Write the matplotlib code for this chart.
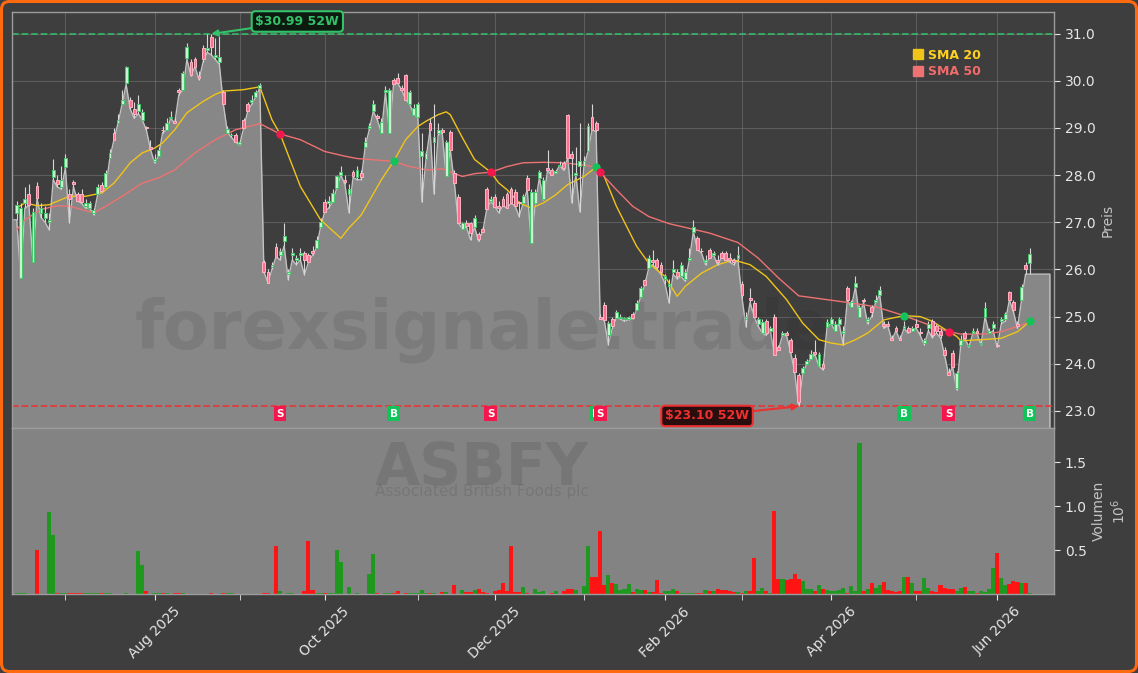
import numpy as np
import pandas as pd
import matplotlib
matplotlib.use("Agg")
import matplotlib.pyplot as plt
import matplotlib.transforms as mtransforms
from matplotlib.lines import Line2D
from matplotlib.patches import FancyBboxPatch

# ---- data ----
ticker = "ASBFY"
company = "Associated British Foods plc"
watermark = "forexsignale.trade"

first_day = "2025-06-12"
last_day = "2026-06-11"
holidays = ["2025-06-19", "2025-07-04", "2025-09-01", "2025-11-27", "2025-12-25",
            "2026-01-01", "2026-01-19", "2026-02-16", "2026-04-03", "2026-05-25"]

opens = [
    27.20, 25.82, 27.40, 27.60, 26.16, 27.77, 27.20, 27.10, 27.00, 27.95,
    27.90, 27.75, 28.16, 27.60, 27.85, 27.60, 27.60, 27.35, 27.30, 27.20,
    27.60, 27.78, 27.75, 28.37, 28.90, 29.10, 29.50, 29.96, 29.60, 29.40,
    29.35, 29.17, 29.02, 28.60, 28.30, 28.40, 28.96, 28.95, 29.20, 29.15,
    29.80, 29.81, 30.49, 30.40, 30.45, 30.10, 30.70, 30.65, 30.93, 30.50,
    30.40, 29.75, 28.90, 28.85, 28.85, 28.65, 29.17, 29.50, 29.55, 29.66,
    29.85, 26.16, 25.95, 26.05, 26.48, 26.30, 26.60, 25.90, 26.30, 26.20,
    26.30, 26.35, 26.30, 26.40, 26.46, 26.90, 27.43, 27.40, 27.43, 27.73,
    28.00, 27.90, 27.60, 28.07, 27.95, 28.05, 28.60, 29.00, 29.35, 29.25,
    28.90, 29.77, 28.90, 30.02, 30.05, 29.85, 30.11, 29.50, 29.28, 29.22,
    28.40, 28.33, 29.10, 28.70, 28.90, 28.95, 27.97, 28.92, 28.05, 27.54,
    26.85, 26.99, 26.99, 26.90, 26.75, 26.85, 27.70, 27.45, 27.54, 27.35,
    27.50, 27.60, 27.70, 27.65, 27.42, 27.40, 27.94, 26.56, 27.40, 27.94,
    27.50, 28.15, 28.10, 28.05, 28.20, 28.26, 29.28, 28.45, 28.00, 28.20,
    28.20, 28.50, 29.24, 29.10, 25.00, 25.25, 24.61, 24.95, 24.97, 24.98,
    24.95, 24.95, 25.05, 25.14, 25.42, 25.78, 26.03, 26.20, 26.20, 26.10,
    25.80, 25.65, 25.95, 25.95, 25.85, 25.80, 26.20, 26.80, 26.67, 26.40,
    26.15, 26.42, 26.30, 26.20, 26.35, 26.35, 26.25, 26.20, 26.25, 25.70,
    24.95, 25.40, 25.29, 24.85, 24.65, 24.90, 24.70, 25.00, 24.35, 24.60,
    24.65, 24.50, 24.12, 23.76, 23.80, 24.00, 24.10, 24.25, 23.95, 24.00,
    24.78, 24.85, 24.70, 24.85, 24.65, 25.61, 25.20, 25.63, 25.00, 25.35,
    24.90, 25.20, 25.30, 25.46, 24.85, 24.85, 24.55, 24.75, 24.55, 24.75,
    24.75, 24.70, 24.85, 24.68, 24.45, 24.75, 24.90, 24.80, 24.70, 24.30,
    23.83, 24.23, 23.49, 24.40, 24.65, 24.38, 24.65, 24.70, 24.42, 25.00,
    24.65, 24.75, 24.40, 24.90, 24.95, 25.52, 25.30, 24.85, 25.35, 26.10,
    26.14,
]

closes = [
    27.37, 27.30, 27.50, 27.37, 27.22, 27.52, 27.30, 27.20, 27.05, 28.10,
    27.80, 27.90, 28.37, 27.50, 27.80, 27.45, 27.43, 27.40, 27.40, 27.25,
    27.75, 27.66, 28.05, 28.47, 28.75, 29.17, 29.60, 30.28, 29.45, 29.30,
    29.50, 29.34, 29.00, 28.55, 28.35, 28.54, 28.95, 29.10, 29.24, 29.10,
    29.75, 30.17, 30.72, 30.13, 30.30, 30.05, 30.45, 30.70, 30.72, 30.55,
    30.50, 29.50, 28.98, 28.85, 28.70, 28.69, 29.00, 29.35, 29.60, 29.75,
    29.90, 25.95, 25.72, 26.10, 26.27, 26.40, 26.70, 25.95, 26.35, 26.25,
    26.35, 26.20, 26.15, 26.35, 26.63, 27.00, 27.22, 27.45, 27.63, 27.97,
    28.07, 27.85, 27.70, 27.97, 28.10, 27.95, 28.70, 29.05, 29.50, 29.20,
    29.13, 29.80, 29.81, 29.92, 29.96, 29.81, 29.60, 29.75, 29.43, 29.50,
    28.50, 28.47, 28.96, 28.80, 28.95, 28.92, 28.70, 28.54, 27.84, 26.99,
    26.99, 26.92, 26.78, 27.10, 26.65, 26.80, 27.27, 27.50, 27.33, 27.30,
    27.35, 27.30, 27.40, 27.35, 27.40, 27.55, 27.69, 27.65, 27.65, 28.07,
    27.90, 28.10, 28.00, 28.08, 28.22, 28.15, 28.37, 28.37, 28.05, 28.30,
    28.30, 29.03, 28.96, 28.95, 24.95, 24.93, 24.87, 24.80, 25.10, 25.00,
    24.97, 25.00, 24.98, 25.29, 25.60, 25.67, 26.25, 26.15, 26.05, 25.95,
    25.85, 25.70, 26.00, 25.85, 26.10, 25.95, 26.25, 26.90, 26.42, 26.38,
    26.20, 26.25, 26.35, 26.15, 26.25, 26.20, 26.20, 26.15, 26.30, 25.45,
    25.00, 25.35, 25.00, 24.95, 24.89, 24.65, 24.75, 24.19, 24.30, 24.65,
    24.62, 24.25, 23.83, 23.19, 23.91, 24.05, 24.20, 24.20, 24.20, 23.90,
    24.89, 24.95, 24.85, 24.95, 24.70, 25.35, 25.30, 25.72, 25.20, 25.32,
    24.95, 25.10, 25.35, 25.57, 24.80, 24.80, 24.50, 24.70, 24.50, 24.80,
    24.68, 24.75, 24.78, 24.65, 24.50, 24.85, 24.60, 24.70, 24.60, 24.19,
    23.76, 23.93, 23.80, 24.50, 24.55, 24.40, 24.70, 24.65, 24.45, 25.18,
    24.70, 24.85, 24.38, 24.95, 25.05, 25.35, 25.15, 24.80, 25.63, 26.00,
    26.33,
]

highs = [
    27.45, 27.40, 27.75, 27.80, 27.30, 27.85, 27.40, 27.35, 27.20, 28.33,
    28.00, 28.20, 28.45, 27.70, 27.90, 27.65, 27.70, 27.50, 27.45, 27.30,
    27.80, 27.85, 28.10, 28.55, 29.00, 29.30, 29.80, 30.32, 29.65, 29.55,
    29.70, 29.40, 29.05, 28.75, 28.45, 28.60, 29.05, 29.20, 29.35, 29.20,
    29.85, 30.20, 30.80, 30.45, 30.50, 30.20, 30.75, 30.98, 30.99, 30.90,
    30.95, 29.80, 29.05, 28.90, 28.90, 28.75, 29.20, 29.55, 29.70, 29.80,
    29.95, 26.20, 26.00, 26.15, 26.55, 26.45, 26.99, 26.00, 26.45, 26.30,
    26.45, 26.40, 26.35, 26.50, 26.70, 27.10, 27.50, 27.55, 27.70, 28.00,
    28.20, 28.00, 27.80, 28.10, 28.20, 28.10, 28.80, 29.10, 29.60, 29.30,
    29.20, 29.88, 29.85, 30.05, 30.17, 29.90, 30.15, 29.80, 29.50, 29.55,
    28.90, 28.50, 29.20, 29.50, 29.10, 29.00, 28.75, 28.95, 28.10, 27.60,
    27.00, 27.05, 27.00, 27.15, 26.80, 26.90, 27.75, 27.55, 27.60, 27.45,
    27.55, 27.65, 27.75, 27.70, 27.45, 27.60, 28.00, 27.70, 27.70, 28.10,
    27.95, 28.54, 28.15, 28.10, 28.30, 28.30, 29.30, 28.50, 28.60, 29.10,
    28.40, 29.10, 29.50, 29.15, 25.05, 25.30, 24.90, 25.00, 25.15, 25.05,
    25.00, 25.02, 25.10, 25.35, 25.65, 25.80, 26.30, 26.42, 26.25, 26.15,
    25.90, 25.80, 26.20, 26.00, 26.15, 26.00, 26.46, 27.05, 26.70, 26.45,
    26.30, 26.45, 26.40, 26.30, 26.40, 26.40, 26.35, 26.25, 26.50, 25.75,
    25.10, 25.60, 25.35, 25.00, 24.95, 24.95, 24.80, 25.05, 24.40, 24.70,
    24.70, 24.55, 24.20, 23.80, 23.95, 24.10, 24.30, 24.50, 24.25, 24.05,
    24.95, 25.00, 24.90, 25.00, 24.80, 25.65, 25.35, 25.85, 25.25, 25.40,
    25.00, 25.25, 25.45, 25.65, 24.90, 24.90, 24.60, 24.80, 24.60, 24.90,
    24.80, 24.80, 24.95, 24.75, 24.55, 24.90, 24.95, 24.85, 24.75, 24.35,
    23.90, 24.30, 23.85, 24.60, 24.70, 24.45, 24.75, 24.75, 24.50, 25.30,
    24.75, 24.90, 24.45, 25.00, 25.10, 25.55, 25.35, 24.90, 25.70, 26.15,
    26.45,
]

lows = [
    27.05, 25.82, 27.30, 27.35, 26.16, 27.50, 27.10, 27.00, 26.84, 27.90,
    27.75, 27.70, 28.15, 26.99, 27.75, 27.45, 27.40, 27.30, 27.30, 27.16,
    27.60, 27.65, 27.75, 28.37, 28.75, 29.10, 29.50, 29.92, 29.40, 29.20,
    29.30, 29.17, 28.95, 28.55, 28.26, 28.40, 28.90, 28.95, 29.20, 29.10,
    29.70, 29.80, 30.45, 30.10, 30.30, 30.02, 30.40, 30.60, 30.55, 30.45,
    30.35, 29.50, 28.90, 28.80, 28.70, 28.64, 29.00, 29.35, 29.50, 29.65,
    29.85, 25.95, 25.72, 26.00, 26.27, 26.20, 26.50, 25.78, 26.20, 26.10,
    26.20, 25.89, 26.15, 26.30, 26.46, 26.90, 27.22, 27.30, 27.43, 27.73,
    28.00, 27.80, 27.20, 27.95, 27.90, 27.90, 28.60, 28.96, 29.35, 29.17,
    28.90, 29.75, 28.90, 29.92, 29.95, 29.81, 29.60, 29.50, 29.28, 29.22,
    27.43, 28.33, 28.96, 27.60, 28.85, 28.90, 27.97, 28.54, 27.84, 26.99,
    26.85, 26.90, 26.63, 26.90, 26.60, 26.80, 27.27, 27.45, 27.33, 27.20,
    27.35, 27.30, 27.40, 27.35, 27.12, 27.40, 27.69, 26.56, 27.40, 27.94,
    27.48, 28.10, 28.00, 28.05, 28.20, 28.10, 28.37, 27.41, 28.00, 27.22,
    28.20, 28.50, 28.96, 28.92, 24.95, 24.93, 24.40, 24.75, 24.97, 24.95,
    24.90, 24.93, 24.95, 25.14, 25.42, 25.67, 26.03, 26.10, 26.00, 25.90,
    25.70, 25.29, 25.90, 25.80, 25.85, 25.75, 26.20, 26.80, 26.42, 26.35,
    26.10, 26.25, 26.30, 26.10, 26.25, 26.20, 26.15, 26.10, 26.20, 25.40,
    24.78, 25.30, 25.00, 24.80, 24.65, 24.60, 24.70, 24.19, 24.30, 24.60,
    24.60, 24.25, 23.83, 23.10, 23.80, 24.00, 24.10, 24.20, 23.95, 23.87,
    24.78, 24.85, 24.70, 24.85, 24.40, 25.35, 25.20, 25.63, 25.00, 25.30,
    24.85, 25.00, 25.30, 25.46, 24.75, 24.80, 24.50, 24.70, 24.50, 24.75,
    24.65, 24.70, 24.75, 24.60, 24.40, 24.70, 24.55, 24.65, 24.55, 24.19,
    23.76, 23.93, 23.45, 24.40, 24.55, 24.35, 24.65, 24.65, 24.40, 25.00,
    24.65, 24.70, 24.35, 24.85, 24.90, 25.35, 25.10, 24.75, 25.35, 25.90,
    25.90,
]

# volume in millions of shares
volumes = [
    0.01, 0.01, 0.01, 0.00, 0.00, 0.50, 0.00, 0.00, 0.93, 0.67,
    0.01, 0.01, 0.01, 0.01, 0.01, 0.01, 0.01, 0.01, 0.01, 0.01,
    0.01, 0.01, 0.01, 0.01, 0.00, 0.00, 0.00, 0.01, 0.00, 0.00,
    0.49, 0.33, 0.03, 0.00, 0.01, 0.01, 0.01, 0.01, 0.00, 0.01,
    0.01, 0.01, 0.00, 0.00, 0.00, 0.00, 0.00, 0.00, 0.01, 0.00,
    0.00, 0.01, 0.01, 0.01, 0.00, 0.00, 0.00, 0.00, 0.00, 0.00,
    0.00, 0.01, 0.01, 0.00, 0.55, 0.03, 0.00, 0.01, 0.01, 0.00,
    0.00, 0.03, 0.60, 0.05, 0.01, 0.01, 0.01, 0.01, 0.01, 0.50,
    0.36, 0.00, 0.08, 0.00, 0.01, 0.00, 0.00, 0.23, 0.46, 0.01,
    0.00, 0.01, 0.01, 0.01, 0.03, 0.00, 0.01, 0.01, 0.01, 0.01,
    0.05, 0.01, 0.01, 0.01, 0.00, 0.02, 0.02, 0.00, 0.10, 0.00,
    0.04, 0.02, 0.02, 0.04, 0.06, 0.02, 0.01, 0.00, 0.03, 0.05,
    0.12, 0.03, 0.55, 0.02, 0.02, 0.08, 0.01, 0.00, 0.06, 0.02,
    0.03, 0.00, 0.01, 0.03, 0.00, 0.03, 0.06, 0.06, 0.05, 0.00,
    0.09, 0.55, 0.19, 0.19, 0.72, 0.10, 0.22, 0.12, 0.11, 0.05,
    0.06, 0.11, 0.02, 0.06, 0.04, 0.05, 0.02, 0.02, 0.16, 0.01,
    0.03, 0.03, 0.06, 0.03, 0.01, 0.01, 0.01, 0.01, 0.01, 0.01,
    0.05, 0.03, 0.03, 0.06, 0.05, 0.05, 0.03, 0.02, 0.02, 0.01,
    0.03, 0.03, 0.41, 0.03, 0.07, 0.03, 0.01, 0.95, 0.17, 0.17,
    0.16, 0.17, 0.23, 0.17, 0.15, 0.06, 0.06, 0.03, 0.10, 0.06,
    0.05, 0.03, 0.03, 0.04, 0.07, 0.01, 0.09, 0.03, 1.72, 0.03,
    0.06, 0.12, 0.07, 0.10, 0.14, 0.05, 0.03, 0.02, 0.03, 0.19,
    0.19, 0.13, 0.03, 0.03, 0.18, 0.07, 0.03, 0.02, 0.10, 0.07,
    0.06, 0.06, 0.03, 0.07, 0.08, 0.03, 0.03, 0.01, 0.03, 0.02,
    0.06, 0.30, 0.47, 0.18, 0.10, 0.11, 0.15, 0.14, 0.13, 0.13,
    0.01,
]

# moving averages as read at their turning points (trading-day index, price)
sma20_idx = [0, 2, 5, 8, 11, 13, 17, 21, 24, 26, 28, 31, 34, 36, 39, 42, 46, 49, 51, 56,
             60, 63, 65, 70, 75, 80, 82, 85, 90, 93, 96, 99, 101, 104, 106, 107, 110, 113,
             117, 119, 121, 124, 127, 130, 133, 136, 140, 143, 145, 148, 153, 156, 160,
             163, 165, 169, 173, 177, 181, 185, 190, 194, 198, 201, 204, 207, 210, 214,
             219, 223, 226, 230, 232, 233, 238, 243, 247, 248, 250]
sma20_val = [27.30, 27.41, 27.35, 27.37, 27.48, 27.55, 27.55, 27.62, 27.83, 28.04, 28.26,
             28.47, 28.57, 28.68, 28.96, 29.32, 29.56, 29.71, 29.78, 29.81, 29.87, 29.17,
             28.87, 27.76, 27.05, 26.66, 26.88, 27.15, 27.90, 28.29, 28.75, 29.03, 29.14,
             29.28, 29.34, 29.28, 28.79, 28.33, 28.06, 27.83, 27.69, 27.41, 27.30, 27.41,
             27.58, 27.80, 27.97, 28.17, 27.97, 27.34, 26.49, 26.13, 25.85, 25.43, 25.64,
             25.92, 26.10, 26.20, 26.10, 25.85, 25.36, 24.86, 24.51, 24.44, 24.40, 24.51,
             24.65, 24.93, 25.02, 25.00, 24.90, 24.68, 24.58, 24.49, 24.51, 24.54, 24.68,
             24.75, 24.90]
sma50_idx = [0, 2, 6, 10, 13, 16, 19, 22, 26, 31, 35, 39, 44, 49, 54, 60, 65, 70, 76, 81,
             84, 87, 93, 97, 101, 105, 110, 113, 117, 121, 125, 130, 135, 140, 143, 144,
             148, 152, 156, 161, 164, 167, 171, 178, 183, 188, 193, 199, 205, 212, 219,
             224, 230, 233, 239, 243, 248, 250]
sma50_val = [26.84, 27.05, 27.27, 27.35, 27.34, 27.27, 27.20, 27.34, 27.55, 27.83, 27.94,
             28.11, 28.47, 28.75, 28.96, 29.09, 28.87, 28.75, 28.50, 28.40, 28.35, 28.33,
             28.29, 28.18, 28.11, 28.13, 27.97, 28.03, 28.06, 28.18, 28.26, 28.27, 28.26,
             28.21, 28.17, 28.06, 27.69, 27.34, 27.12, 26.97, 26.91, 26.85, 26.77, 26.57,
             26.24, 25.82, 25.44, 25.37, 25.30, 25.21, 25.02, 24.86, 24.68, 24.63, 24.63,
             24.68, 24.82, 24.90]

# SMA crossover signals
signal_idx = [65, 93, 117, 143, 144, 219, 230, 250]
signal_type = ["S", "B", "S", "B", "S", "B", "S", "B"]
signal_level = [28.87, 28.29, 28.06, 28.17, 28.06, 25.02, 24.68, 24.90]

# ---- colours ----
BG = "#3e3e3e"
FILL = "#878787"
FILL_EDGE = "#c2c2c2"
VOL_BG = "#838383"
TXT = "#e6e6e6"
LBL = "#c4c4c4"
SPINE = "#9c9c9c"
UP_FACE, UP_EDGE = "#c9f2d2", "#45c96b"
DN_FACE, DN_EDGE = "#ff6f8e", "#ffb4c4"
WICK = "#d6d6d6"
VOL_UP, VOL_DN = "#1f981f", "#ff1414"
SMA20_C, SMA50_C = "#f0c419", "#ee7272"
BUY, SELL = "#14c25a", "#f2184e"
HI_C, LO_C = "#33c26a", "#ee3030"


def main():
    dates = pd.bdate_range(first_day, last_day)
    dates = dates[~dates.isin(pd.to_datetime(holidays))]
    n = len(dates)
    x = np.arange(n)

    o = np.array(opens)
    c = np.array(closes)
    h = np.array(highs)
    l = np.array(lows)
    vol = np.array(volumes)
    up = c >= o

    fig = plt.figure(figsize=(11.38, 6.73), dpi=100, facecolor=BG)
    ax = fig.add_axes([0.0108, 0.3640, 0.9157, 0.6181])
    axv = fig.add_axes([0.0108, 0.1174, 0.9157, 0.2466], sharex=ax)

    y_lo, y_hi = l.min() * 0.98, h.max() * 1.015
    x_lo, x_hi = -1.1, n + 5.1

    # area under the daily lows
    fx = np.r_[x_lo, x, n + 4]
    fy = np.r_[l[0], l, l[-1]]
    ax.fill_between(fx, fy, y_lo, color=FILL, lw=0, zorder=1)
    ax.plot(np.r_[fx, n + 4], np.r_[fy, y_lo], color=FILL_EDGE, lw=1.0, zorder=1.5)

    ax.text(0.451, 0.19, watermark, transform=ax.transAxes, ha="center", va="baseline",
            fontsize=48, fontweight="bold", color="#1e1e1e", alpha=0.11, zorder=2)

    # 52 week lines
    hi_i, lo_i = int(np.argmax(h)), int(np.argmin(l))
    ax.axhline(h[hi_i], color=HI_C, ls="--", lw=1.3, alpha=0.85, zorder=2.5)
    ax.axhline(l[lo_i], color=LO_C, ls="--", lw=1.3, alpha=0.85, zorder=2.5)

    # moving averages
    ax.plot(sma20_idx, sma20_val, color=SMA20_C, lw=1.0, zorder=3)
    ax.plot(sma50_idx, sma50_val, color=SMA50_C, lw=1.0, zorder=3)

    # candles
    body_lo = np.minimum(o, c)
    body_h = np.abs(c - o)
    ax.vlines(x, l, h, color=WICK, lw=0.8, zorder=4)
    ax.bar(x[up], body_h[up], bottom=body_lo[up], width=0.7, color=UP_FACE,
           edgecolor=UP_EDGE, lw=0.7, zorder=5)
    ax.bar(x[~up], body_h[~up], bottom=body_lo[~up], width=0.7, color=DN_FACE,
           edgecolor=DN_EDGE, lw=0.7, zorder=5)

    # crossover signals
    trans = mtransforms.blended_transform_factory(ax.transData, ax.transAxes)
    for i, t, lv in zip(signal_idx, signal_type, signal_level):
        col = BUY if t == "B" else SELL
        ax.plot(i, lv, "o", color=col, ms=6, mec="none", zorder=7)
        ax.text(i, 0.034, t, transform=trans, ha="center", va="center", fontsize=7.5,
                fontweight="bold", color="white", zorder=8,
                bbox=dict(boxstyle="square,pad=0.25", fc=col, ec="none"))

    # 52 week annotations
    ax.annotate(f"${h[hi_i]:.2f} 52W", xy=(hi_i, h[hi_i]), xytext=(62, 9),
                textcoords="offset points", ha="center", va="center", fontsize=9,
                fontweight="bold", color=HI_C, zorder=9,
                bbox=dict(boxstyle="round,pad=0.3", fc="#0c1a10", ec=HI_C, lw=1.5),
                arrowprops=dict(arrowstyle="-|>", color=HI_C, lw=1.5, shrinkA=0, shrinkB=0))
    ax.annotate(f"${l[lo_i]:.2f} 52W", xy=(lo_i, l[lo_i]), xytext=(-66, -7),
                textcoords="offset points", ha="center", va="center", fontsize=9,
                fontweight="bold", color=LO_C, zorder=9,
                bbox=dict(boxstyle="round,pad=0.3", fc="#2a0e0e", ec=LO_C, lw=1.5),
                arrowprops=dict(arrowstyle="-|>", color=LO_C, lw=1.5, shrinkA=0, shrinkB=0))

    # legend
    handles = [Line2D([], [], marker="s", ls="none", color=SMA20_C, ms=7),
               Line2D([], [], marker="s", ls="none", color=SMA50_C, ms=7)]
    leg = ax.legend(handles, ["SMA 20", "SMA 50"], loc="upper left",
                    bbox_to_anchor=(0.862, 0.918), frameon=False, borderaxespad=0,
                    borderpad=0.2, handletextpad=0.4, handlelength=0.8, labelspacing=0.3,
                    prop={"size": 9, "weight": "bold"})
    for txt, col in zip(leg.get_texts(), ["#ffd21f", "#f26b6b"]):
        txt.set_color(col)

    # volume
    axv.set_facecolor(VOL_BG)
    axv.bar(x, vol, width=1.0, color=np.where(up, VOL_UP, VOL_DN), lw=0)
    axv.set_ylim(0, vol.max() * 1.1)
    axv.set_yticks([0.5, 1.0, 1.5])
    axv.set_yticklabels(["0.5", "1.0", "1.5"])

    fig.text(0.4236, 0.2800, ticker, ha="center", va="baseline", fontsize=42,
             fontweight="bold", color="#1e1e1e", alpha=0.12)
    fig.text(0.4236, 0.2630, company, ha="center", va="baseline", fontsize=11,
             color="#1e1e1e", alpha=0.12)

    # axes styling
    ax.set_facecolor(BG)
    ax.set_xlim(x_lo, x_hi)
    ax.set_ylim(y_lo, y_hi)
    ax.set_yticks(np.arange(23, 31.5, 1.0))
    ax.set_yticklabels([f"{v:.1f}" for v in np.arange(23, 31.5, 1.0)])

    month = dates.month.values
    starts = [i for i in range(1, n) if month[i] != month[i - 1]]
    major = [i for i in starts if month[i] % 2 == 0]
    minor = [i for i in starts if month[i] % 2 == 1]
    axv.set_xticks(major)
    axv.set_xticklabels([dates[i].strftime("%b %Y") for i in major], rotation=45)
    axv.set_xticks(minor, minor=True)

    ax.grid(True, which="both", color="#8a8a8a", alpha=0.4, lw=0.8)
    ax.set_axisbelow(True)

    for a in (ax, axv):
        a.yaxis.tick_right()
        a.yaxis.set_label_position("right")
        for sp in a.spines.values():
            sp.set_color(SPINE)
            sp.set_linewidth(1.0)
        a.tick_params(axis="y", colors=TXT, labelsize=10, length=4)
        a.tick_params(axis="x", which="both", colors=TXT, labelsize=10, length=4)
    ax.tick_params(axis="x", which="both", labelbottom=False, length=0)

    ax.set_ylabel("Preis", color=LBL, fontsize=10)
    axv.set_ylabel("Volumen\n$10^{6}$", color=LBL, fontsize=10)

    # orange frame
    fig.patches.append(FancyBboxPatch((0.015, 0.015), 11.35, 6.70,
                                      boxstyle="round,pad=0,rounding_size=0.08",
                                      transform=fig.dpi_scale_trans, fill=False,
                                      ec="#ff6a10", lw=2.2))

    fig.savefig("out.png", dpi=100, facecolor=fig.get_facecolor())


if __name__ == "__main__":
    main()
